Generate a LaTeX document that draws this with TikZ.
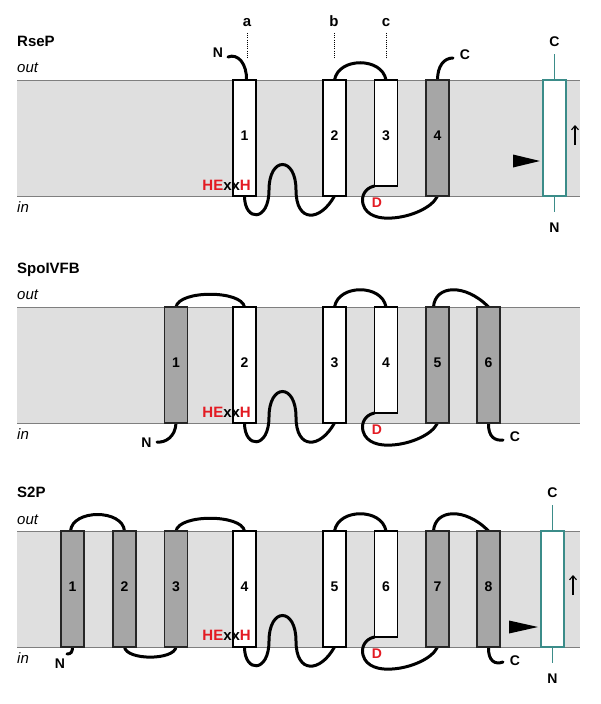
\documentclass[tikz,border=0pt]{standalone}
\usepackage{fontspec}
\setmainfont{Liberation Sans}
\usetikzlibrary{arrows.meta}
\pgfdeclarelayer{bg}
\pgfdeclarelayer{loops}
\pgfsetlayers{bg,loops,main}
\definecolor{bandfill}{HTML}{DFDFDF}
\definecolor{bandline}{HTML}{7F7F7F}
\definecolor{tmdark}{HTML}{A6A6A6}
\definecolor{tealc}{HTML}{3B8C89}
\definecolor{hred}{HTML}{E31B23}
\tikzset{
 tm/.style={draw=black, fill=white, line width=1.2pt, minimum width=23pt, minimum height=116pt, inner sep=0pt, outer sep=0pt, font=\bfseries\fontsize{14}{16}\selectfont},
 tmd/.style={tm, draw=black!85, fill=tmdark},
 tms/.style={tm, minimum height=106pt},
 subst/.style={tm, draw=tealc, line width=1.1pt},
 loopline/.style={line width=3pt, black, line cap=round},
 lbl/.style={font=\bfseries\fontsize{14}{16}\selectfont, inner sep=0pt},
 toplbl/.style={font=\bfseries\fontsize{15}{18}\selectfont, anchor=base, inner sep=0pt},
 ttl/.style={font=\bfseries\fontsize{15}{18}\selectfont, anchor=base west, inner sep=0pt},
 side/.style={font=\itshape\fontsize{15}{18}\selectfont, anchor=base west, inner sep=0pt},
 motif/.style={font=\bfseries\fontsize{15}{18}\selectfont, anchor=base east, inner sep=0pt},
 tealline/.style={draw=tealc, line width=1.6pt},
 dots/.style={line width=1pt, dash pattern=on 1pt off 1.2pt},
 bandstyle/.style={fill=bandfill},
 bandedge/.style={draw=bandline, line width=1pt},
 uparrow/.style={line width=1.1pt, -{Straight Barb[length=4pt,width=7pt]}},
}
\newcommand{\tmnum}[1]{\raisebox{2pt}[\height][\depth]{#1}}
\newcommand{\tmnumS}[1]{\raisebox{-3pt}[\height][\depth]{#1}}
\newcommand{\memband}{%
 \begin{pgfonlayer}{bg}
 \fill[bandstyle] (17,0) rectangle (580,116);
 \draw[bandedge] (17,0) -- (580,0);
 \draw[bandedge] (17,116) -- (580,116);
 \end{pgfonlayer}}
\newcommand{\hexxh}{\textcolor{hred}{HE}xx\textcolor{hred}{H}}
% hairpin between the south anchors of two helices
\newcommand{\hairpin}[2]{%
 \draw[loopline] (#1.south) .. controls (244.5,142) and (269,142) .. (269,110)
   .. controls (269,76) and (296,76) .. (296,110)
   .. controls (296,143) and (320,142) .. (#2.south);}
\newcommand{\dloop}[2]{%
 \draw[loopline] (#1.south west) .. controls (365,108) and (361,116) .. (363,124)
   .. controls (366,136) and (380,139) .. (392,138)
   .. controls (410,137) and (432,128) .. (#2.south);}
\begin{document}
\begin{tikzpicture}[x=1pt,y=-1pt]
\useasboundingbox (0,0) rectangle (600,704);
% ================= RseP =================
\begin{scope}[shift={(0,80)}]
\memband
\node[ttl] (tA) at (17,-33.5) {RseP};
\node[side] (oA) at (17,-7.5) {out};
\node[side] (iA) at (17,132.5) {in};
\node[tm] (a1) at (244.5,58) {\tmnum{1}};
\node[tm] (a2) at (334.5,58) {\tmnum{2}};
\node[tms] (a3) at (386,53) {\tmnumS{3}};
\node[tmd] (a4) at (437.5,58) {\tmnum{4}};
\node[subst] (as) at (554.5,58) {};
\node[motif] (ha) at (251,110) {\hexxh};
\node[lbl, text=hred] (da) at (377,123) {D};
\node[lbl] (na) at (218,-27) {N};
\node[lbl] (ca) at (465,-25) {C};
\coordinate (naend) at (228,-23);
\coordinate (caend) at (453,-22);
% a b c markers
\node[toplbl] (la) at (247,-53) {a};
\node[toplbl] (lb) at (334,-53) {b};
\node[toplbl] (lc) at (386,-53) {c};
\coordinate (la1) at (247,-47); \coordinate (la2) at (247,-22);
\coordinate (lb1) at (334,-47); \coordinate (lb2) at (334,-22);
\coordinate (lc1) at (386,-47); \coordinate (lc2) at (386,-22);
\draw[dots] (la1) -- (la2);
\draw[dots] (lb1) -- (lb2);
\draw[dots] (lc1) -- (lc2);
% substrate
\coordinate (ast) at (554.5,-26);
\coordinate (asb) at (554.5,132);
\node[lbl] (asc) at (554.5,-38) {C};
\node[lbl] (asn) at (554.5,148) {N};
\draw[tealline] (as.north) -- (ast);
\draw[tealline] (as.south) -- (asb);
\fill (513,74.5) -- (540,81) -- (513,87.5) -- cycle;
\coordinate (aup1) at (575,65); \coordinate (aup2) at (575,45);
\draw[uparrow] (aup1) -- (aup2);
\begin{pgfonlayer}{loops}
\draw[loopline] ([xshift=2pt]a1.north) .. controls (247,-16) and (238,-27) .. (naend);
\draw[loopline] (a2.north) .. controls +(4,-23) and +(-4,-23) .. (a3.north);
\hairpin{a1}{a2}
\dloop{a3}{a4}
\draw[loopline] (a4.north) .. controls (437.5,-14) and (444,-22) .. (caend);
\end{pgfonlayer}
\end{scope}
% ================= SpoIVFB =================
\begin{scope}[shift={(0,307)}]
\memband
\node[ttl] (tB) at (17,-34) {SpoIVFB};
\node[side] (oB) at (17,-8) {out};
\node[side] (iB) at (17,132.5) {in};
\node[tmd] (b1) at (176,58) {\tmnum{1}};
\node[tm] (b2) at (244.5,58) {\tmnum{2}};
\node[tm] (b3) at (334.5,58) {\tmnum{3}};
\node[tms] (b4) at (386,53) {\tmnumS{4}};
\node[tmd] (b5) at (437.5,58) {\tmnum{5}};
\node[tmd] (b6) at (488.5,58) {\tmnum{6}};
\node[motif] (hb) at (251,110) {\hexxh};
\node[lbl, text=hred] (db) at (377,123) {D};
\node[lbl] (nb) at (146.5,136) {N};
\node[lbl] (cb) at (515,130) {C};
\coordinate (nbend) at (157,135);
\coordinate (cbend) at (503,133);
\begin{pgfonlayer}{loops}
\draw[loopline] (b1.north) .. controls +(3,-17) and +(-3,-17) .. (b2.north);
\draw[loopline] (b1.south) .. controls (175.5,130) and (165,136) .. (nbend);
\hairpin{b2}{b3}
\draw[loopline] (b3.north) .. controls +(4,-23) and +(-4,-23) .. (b4.north);
\dloop{b4}{b5}
\draw[loopline] ([xshift=-4pt]b5.north) .. controls (435,-22) and (465,-24) .. (b6.north);
\draw[loopline] (b6.south) .. controls (488,130) and (495,134) .. (cbend);
\end{pgfonlayer}
\end{scope}
% ================= S2P =================
\begin{scope}[shift={(0,531)}]
\memband
\node[ttl] (tC) at (17,-34) {S2P};
\node[side] (oC) at (17,-7) {out};
\node[side] (iC) at (17,132) {in};
\node[tmd] (c1) at (72.5,58) {\tmnum{1}};
\node[tmd] (c2) at (124.5,58) {\tmnum{2}};
\node[tmd] (c3) at (176,58) {\tmnum{3}};
\node[tm] (c4) at (244.5,58) {\tmnum{4}};
\node[tm] (c5) at (334.5,58) {\tmnum{5}};
\node[tms] (c6) at (386,53) {\tmnumS{6}};
\node[tmd] (c7) at (437.5,58) {\tmnum{7}};
\node[tmd] (c8) at (488.5,58) {\tmnum{8}};
\node[subst] (cs) at (552.5,58) {};
\node[motif] (hc) at (251,109.5) {\hexxh};
\node[lbl, text=hred] (dc) at (377,123) {D};
\node[lbl] (nc) at (60,133) {N};
\node[lbl] (cc) at (515,129.5) {C};
\coordinate (ncend) at (67,123);
\coordinate (ccend) at (503,131);
\coordinate (cst) at (552.5,-26);
\coordinate (csb) at (552.5,132);
\node[lbl] (csc) at (552.5,-38) {C};
\node[lbl] (csn) at (552.5,148) {N};
\draw[tealline] (cs.north) -- (cst);
\draw[tealline] (cs.south) -- (csb);
\fill (509,89.5) -- (538,96) -- (509,102.5) -- cycle;
\coordinate (cup1) at (573,64); \coordinate (cup2) at (573,44);
\draw[uparrow] (cup1) -- (cup2);
\begin{pgfonlayer}{loops}
\draw[loopline] (c1.south) .. controls (72.5,121) and (71,123) .. (ncend);
\draw[loopline] ([xshift=-2pt]c1.north) .. controls +(2,-22) and +(-2,-22) .. (c2.north);
\draw[loopline] (c2.south) .. controls +(2,13.5) and +(-2,13.5) .. (c3.south);
\draw[loopline] (c3.north) .. controls +(3,-17) and +(-3,-17) .. (c4.north);
\hairpin{c4}{c5}
\draw[loopline] (c5.north) .. controls +(4,-23) and +(-4,-23) .. (c6.north);
\dloop{c6}{c7}
\draw[loopline] ([xshift=-4pt]c7.north) .. controls (435,-22) and (465,-24) .. (c8.north);
\draw[loopline] (c8.south) .. controls (488,130) and (495,134) .. (ccend);
\end{pgfonlayer}
\end{scope}
\end{tikzpicture}
\end{document}
